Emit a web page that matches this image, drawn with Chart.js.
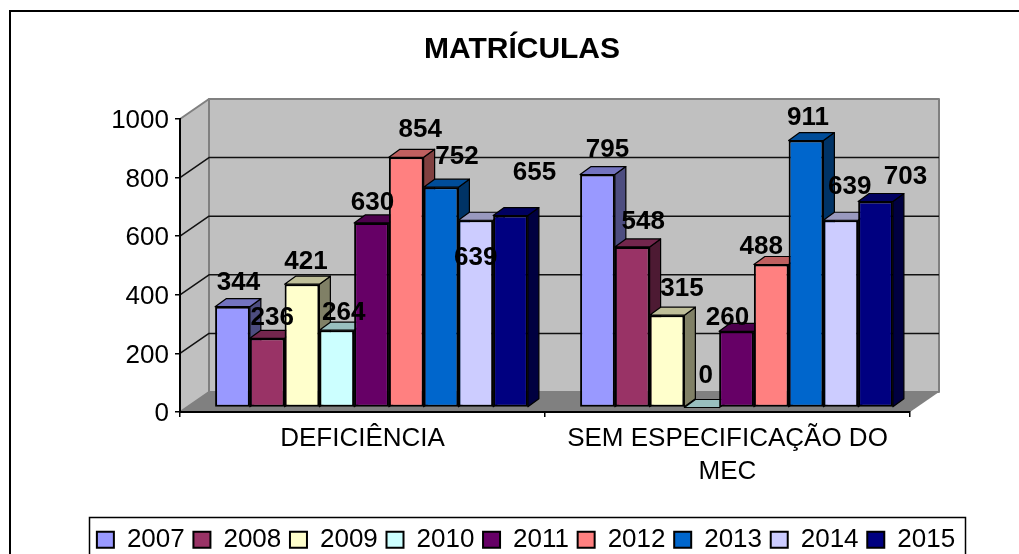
<!DOCTYPE html>
<html>
<head>
<meta charset="utf-8">
<style>html,body{margin:0;padding:0;background:#fff}canvas{display:block}</style>
<script src="https://cdn.jsdelivr.net/npm/chart.js@4"></script>
</head>
<body>
<canvas id="c" width="1019" height="554"></canvas>
<script>
const categories = ['DEFICIÊNCIA', ['SEM ESPECIFICAÇÃO DO', 'MEC']];
const years = ['2007','2008','2009','2010','2011','2012','2013','2014','2015'];
const v2007 = [344, 795];
const v2008 = [236, 548];
const v2009 = [421, 315];
const v2010 = [264, 0];
const v2011 = [630, 260];
const v2012 = [854, 488];
const v2013 = [752, 911];
const v2014 = [639, 639];
const v2015 = [655, 703];
const seriesValues = [v2007, v2008, v2009, v2010, v2011, v2012, v2013, v2014, v2015];
const colors = ['#9999FF','#993366','#FFFFCC','#CCFFFF','#660066','#FF8080','#0066CC','#CCCCFF','#000080'];

// manual nudges of the value labels (per year, per category), relative to the bar top
const labelNudge = [
  [[6,-23],[10,-24]], [[5,-20],[11,-25]], [[4,-22],[15,-26]],
  [[7,-17],[4,-31]],  [[1,-20],[-9,-13]], [[14,-27],[-10,-17]],
  [[16,-30],[2,-22]], [[0,38],[9,-33]],   [[24,-42],[30,-24]]
];

const FONT = '"Liberation Sans", Arial, sans-serif';
const WALL = {dx: 29, dy: 20};   // depth of the box
const BAR_SHIFT = {x: 9, y: -4.5}; // bars stand inside the box
const BAR_DEPTH = {dx: 11, dy: 8};

function shade(hex, f) {
  const n = parseInt(hex.slice(1), 16);
  return 'rgb(' + [(n >> 16) & 255, (n >> 8) & 255, n & 255].map(c => Math.round(c * f)).join(',') + ')';
}
function poly(ctx, pts, fill, stroke, lw) {
  ctx.beginPath();
  pts.forEach((p, i) => i ? ctx.lineTo(p[0], p[1]) : ctx.moveTo(p[0], p[1]));
  ctx.closePath();
  if (fill) { ctx.fillStyle = fill; ctx.fill(); }
  if (stroke) { ctx.strokeStyle = stroke; ctx.lineWidth = lw; ctx.lineJoin = 'round'; ctx.stroke(); }
}

const box3d = {
  id: 'box3d',
  beforeDraw(chart) {
    const ctx = chart.ctx, a = chart.chartArea, y = chart.scales.y;
    const {dx, dy} = WALL;
    ctx.save();
    ctx.fillStyle = '#fff';
    ctx.fillRect(0, 0, chart.width, chart.height);
    ctx.strokeStyle = '#000';
    ctx.lineWidth = 2;
    ctx.strokeRect(10, 11, chart.width + 20, chart.height + 20);
    ctx.lineWidth = 1.5;
    ctx.strokeRect(89.5, 517.5, 876, 60);

    const L = a.left, R = a.right, T = a.top, B = a.bottom;
    poly(ctx, [[L+dx,T-dy],[R+dx,T-dy],[R+dx,B-dy],[L+dx,B-dy]], '#C0C0C0', '#808080', 2);
    poly(ctx, [[L,T],[L+dx,T-dy],[L+dx,B-dy],[L,B]], '#C0C0C0', '#808080', 2);
    poly(ctx, [[L,B],[L+dx,B-dy],[R+dx,B-dy],[R,B]], '#808080');
    ctx.strokeStyle = '#111';
    ctx.lineWidth = 1.5;
    y.ticks.forEach(t => {
      if (t.value === y.min || t.value === y.max) return;
      const p = y.getPixelForValue(t.value);
      ctx.beginPath();
      ctx.moveTo(L, p); ctx.lineTo(L + dx, p - dy); ctx.lineTo(R + dx, p - dy);
      ctx.stroke();
    });
    ctx.restore();

    const lg = chart.legend;
    lg.left = 526 - 445; lg.right = 526 + 445;
    lg.top = 518;
    const tb = chart.titleBlock;
    tb.left = 25; tb.right = 1019;
  },
  // paint the bars left to right so each one overlaps the side of the previous one
  beforeDatasetsDraw(chart) {
    const ctx = chart.ctx;
    const {dx, dy} = BAR_DEPTH;
    ctx.save();
    ctx.translate(BAR_SHIFT.x, BAR_SHIFT.y);
    seriesValues.forEach((vals, s) => {
      const meta = chart.getDatasetMeta(s), c = colors[s];
      meta.data.forEach(el => {
        const l = el.x - el.width / 2, r = el.x + el.width / 2, t = el.y, b = el.base;
        poly(ctx, [[r,t],[r+dx,t-dy],[r+dx,b-dy],[r,b]], shade(c, 0.5), '#000', 1.2);
        poly(ctx, [[l,t],[l+dx,t-dy],[r+dx,t-dy],[r,t]], shade(c, 0.75), '#000', 1.2);
      });
      meta.controller.draw();
    });
    ctx.restore();
    return false;
  },
  afterDraw(chart) {
    const ctx = chart.ctx;
    ctx.save();
    ctx.font = 'bold 26px ' + FONT;
    ctx.fillStyle = '#000';
    ctx.textAlign = 'center';
    ctx.textBaseline = 'middle';
    seriesValues.forEach((vals, s) => {
      const meta = chart.getDatasetMeta(s);
      vals.forEach((v, i) => {
        const el = meta.data[i], n = labelNudge[s][i];
        ctx.fillText(String(v), el.x + BAR_SHIFT.x + n[0], el.y - 5 + n[1]);
      });
    });
    ctx.restore();
  }
};

new Chart(document.getElementById('c'), {
  type: 'bar',
  data: {
    labels: categories,
    datasets: seriesValues.map((vals, i) => ({
      label: years[i],
      data: vals,
      backgroundColor: colors[i],
      borderColor: '#000',
      borderWidth: 2,
      borderSkipped: false,
      clip: false,
      categoryPercentage: 0.857,
      barPercentage: 1
    }))
  },
  options: {
    responsive: false,
    animation: false,
    events: [],
    layout: {padding: {left: 0, right: 109, top: 0, bottom: 0}},
    plugins: {
      tooltip: {enabled: false},
      title: {
        display: true,
        text: 'MATRÍCULAS',
        color: '#000',
        font: {family: FONT, size: 30, weight: 'bold', lineHeight: 1.2},
        padding: {top: 31.5, bottom: 51.5}
      },
      legend: {
        position: 'bottom',
        labels: {
          color: '#000',
          font: {family: FONT, size: 26},
          boxWidth: 17,
          boxHeight: 16,
          padding: 8.7
        }
      }
    },
    scales: {
      x: {
        afterFit(s) { s.height = 97.3; },
        border: {color: '#000', width: 2},
        grid: {display: true, drawOnChartArea: false, drawTicks: true, tickLength: 5, color: '#000', lineWidth: 1.5, offset: true},
        ticks: {color: '#000', font: {family: FONT, size: 26, lineHeight: 1.25}, padding: 6, maxRotation: 0, autoSkip: false}
      },
      y: {
        min: 0,
        max: 1000,
        afterFit(s) { s.width = 180; },
        border: {color: '#000', width: 2},
        grid: {display: true, drawOnChartArea: false, drawTicks: true, tickLength: 5, color: '#000', lineWidth: 1.5},
        ticks: {stepSize: 200, color: '#000', font: {family: FONT, size: 26}, padding: 6, labelOffset: 2, callback: v => String(v)}
      }
    }
  },
  plugins: [box3d]
});
</script>
</body>
</html>
